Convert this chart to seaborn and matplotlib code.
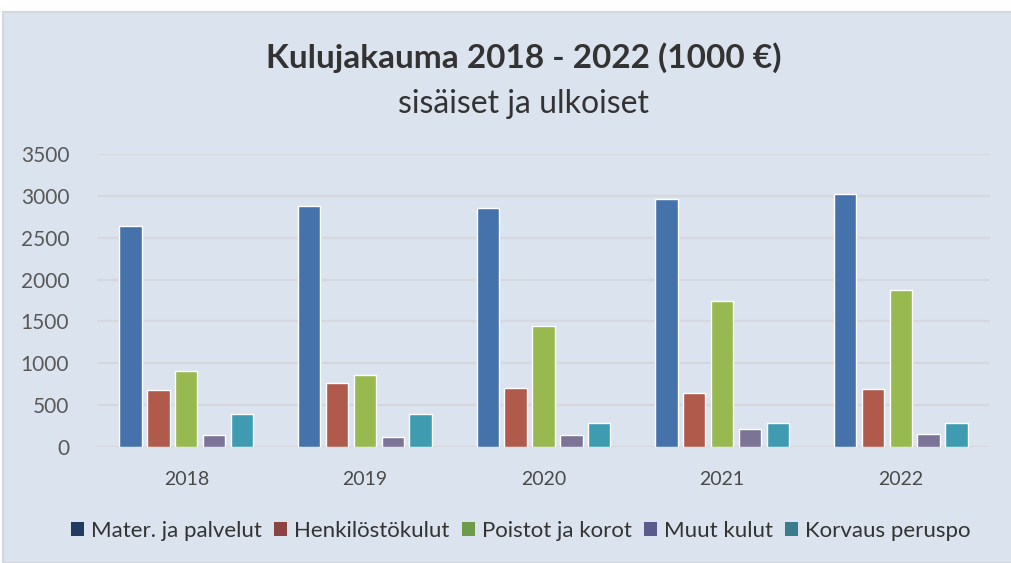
import matplotlib
matplotlib.use("Agg")
import matplotlib.pyplot as plt
from matplotlib.patches import Rectangle, Patch
import seaborn as sns
import pandas as pd

years = ["2018", "2019", "2020", "2021", "2022"]
series = ["Mater. ja palvelut", "Henkilöstökulut", "Poistot ja korot", "Muut kulut", "Korvaus peruspo"]
mater = [2640, 2880, 2850, 2960, 3020]
henk = [680, 770, 710, 650, 690]
poistot = [910, 860, 1440, 1750, 1870]
muut = [140, 120, 140, 220, 160]
korvaus = [400, 400, 290, 290, 290]
yticks = [0, 500, 1000, 1500, 2000, 2500, 3000, 3500]

bar_colors = ["#4672ac", "#b05a4c", "#98b850", "#7b7496", "#3f9bb0"]
legend_colors = ["#1f3b60", "#8c4442", "#6e9a4c", "#5b5a8c", "#3b7b8c"]
bg = "#dbe3ee"

rows = []
for name, vals in zip(series, [mater, henk, poistot, muut, korvaus]):
    for y, v in zip(years, vals):
        rows.append({"year": y, "series": name, "value": v})
df = pd.DataFrame(rows)

sns.set_theme(style="white")
plt.rcParams["font.family"] = ["Lato", "DejaVu Sans"]

fig = plt.figure(figsize=(10.11, 5.63), dpi=100)
fig.patch.set_facecolor("white")
fig.patches.append(Rectangle((3 / 1011, 0), 1.0, 1 - 12 / 563, transform=fig.transFigure,
                             facecolor=bg, edgecolor="#d2d8e0", linewidth=1.5, zorder=-10))

ax = fig.add_axes([97 / 1011, 116 / 563, 893 / 1011, 293 / 563])
ax.set_facecolor(bg)
ax.patch.set_alpha(0)

sns.barplot(data=df, x="year", y="value", hue="series", palette=bar_colors,
            width=0.78, gap=0.2, saturation=1, legend=False, ax=ax, zorder=3)

ax.set_ylim(0, 3500)
ax.set_yticks(yticks)
ax.set_yticklabels([str(t) for t in yticks])
ax.grid(axis="y", color="#d5d8dd", linewidth=1.6, zorder=0)
ax.set_axisbelow(True)
for s in ax.spines.values():
    s.set_visible(False)
ax.tick_params(axis="y", length=0, pad=20, labelsize=15, labelcolor="#595959")
ax.tick_params(axis="x", length=0, pad=17, labelsize=14, labelcolor="#4a4a4a")
ax.set_xlabel("")
ax.set_ylabel("")

fig.text(0.518, 0.897, "Kulujakauma 2018 - 2022 (1000 €)", ha="center", va="center",
         fontsize=24, fontweight="bold", color="#333333")
fig.text(0.518, 0.815, "sisäiset ja ulkoiset", ha="center", va="center",
         fontsize=23, color="#333333")

handles = [Patch(facecolor=c, edgecolor="none", label=n) for c, n in zip(legend_colors, series)]
fig.legend(handles=handles, loc="center", bbox_to_anchor=(0.515, 0.057), ncol=5,
           frameon=False, fontsize=16, handlelength=0.6, handleheight=0.6,
           handletextpad=0.3, columnspacing=0.55, labelcolor="#333333")

fig.savefig("out.png", dpi=100, facecolor=fig.get_facecolor())
